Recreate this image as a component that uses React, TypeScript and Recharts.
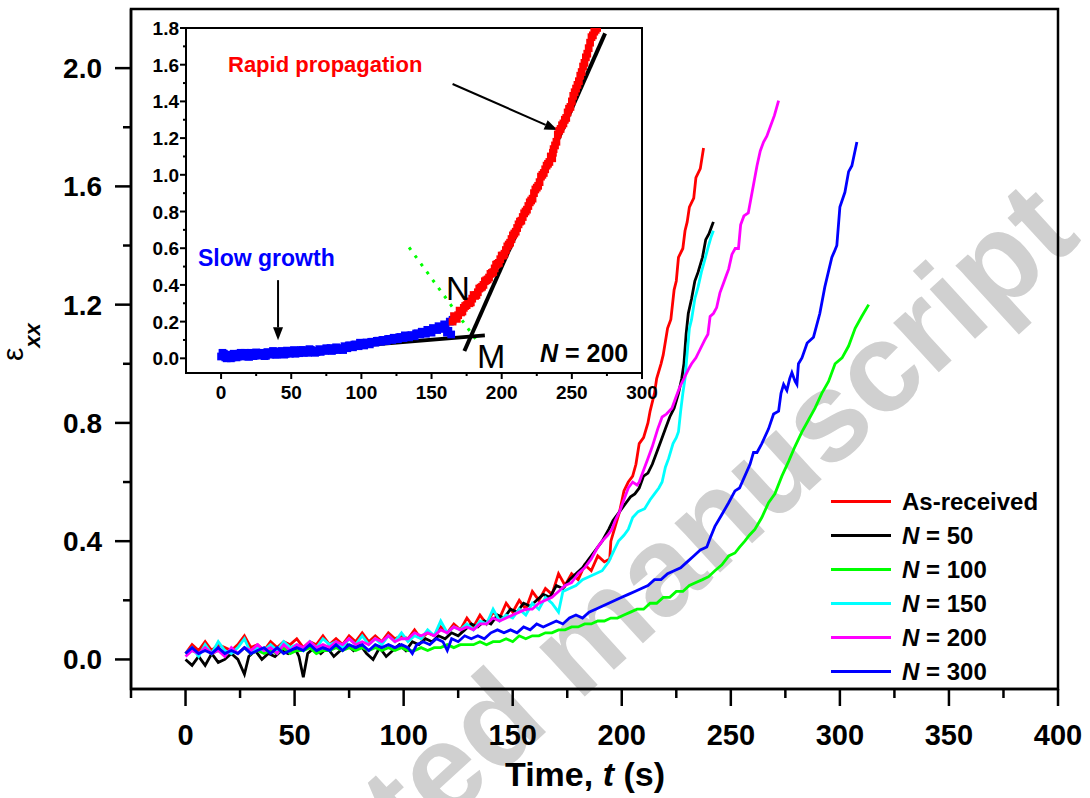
import React from 'react';
import { LineChart, Line, XAxis, YAxis, ReferenceArea, ReferenceLine, ComposedChart, Scatter, ZAxis } from 'recharts';

const FONT = '"Liberation Sans", Arial, Helvetica, sans-serif';

// [time (s), strain]
const asReceived: [number, number][] = [
  [0, 0.02], [3, 0.05], [6, 0.03], [9, 0.06], [12, 0.03], [15, 0.05], [18, 0.04], [21, 0.03], [24, 0.05], [27, 0.08],
  [30, 0.04], [33, 0.05], [36, 0.03], [39, 0.06], [42, 0.04], [45, 0.06], [48, 0.05], [51, 0.07], [54, 0.04], [57, 0.06],
  [60, 0.05], [63, 0.08], [66, 0.05], [69, 0.07], [72, 0.05], [75, 0.08], [78, 0.06], [81, 0.09], [84, 0.06], [87, 0.08],
  [90, 0.06], [93, 0.09], [96, 0.07], [99, 0.08], [102, 0.07], [105, 0.1], [108, 0.07], [111, 0.09], [114, 0.08], [117, 0.11],
  [120, 0.09], [123, 0.12], [126, 0.1], [129, 0.14], [132, 0.11], [135, 0.15], [138, 0.12], [141, 0.16], [144, 0.14], [147, 0.19],
  [150, 0.16], [153, 0.2], [156, 0.17], [159, 0.23], [162, 0.2], [165, 0.24], [168, 0.22], [171, 0.29], [174, 0.25], [177, 0.29],
  [180, 0.27], [183, 0.32], [186, 0.3], [189, 0.35], [192, 0.33], [194.5, 0.34], [195, 0.4], [197, 0.45], [199, 0.5], [201, 0.57],
  [203, 0.6], [205, 0.62], [206.5, 0.66], [208, 0.73], [210, 0.75], [212, 0.8], [213, 0.84], [215, 0.9], [216, 0.95], [218, 1.0],
  [219, 1.03], [221, 1.12], [222.5, 1.15], [224, 1.25], [225, 1.28], [226, 1.36], [228, 1.39], [229, 1.45], [230, 1.48], [231, 1.53],
  [233, 1.56], [234, 1.63], [236, 1.66], [237.5, 1.73],
];

const n50: [number, number][] = [
  [0, 0.0], [3, -0.02], [6, 0.01], [9, -0.02], [12, 0.02], [15, -0.01], [18, 0.0], [21, 0.02], [24, 0.0], [27, -0.05],
  [29, 0.01], [32, 0.03], [35, 0.0], [38, 0.02], [41, 0.01], [44, 0.03], [47, 0.02], [50, 0.04], [52, 0.01], [54, -0.06],
  [56, 0.02], [59, 0.04], [62, 0.02], [65, 0.04], [68, 0.01], [71, 0.03], [74, 0.05], [77, 0.03], [80, 0.05], [83, 0.02],
  [86, 0.0], [89, 0.04], [92, 0.01], [95, 0.03], [98, 0.05], [101, 0.03], [104, 0.06], [107, 0.05], [110, 0.07], [113, 0.06],
  [116, 0.08], [119, 0.07], [122, 0.09], [125, 0.08], [128, 0.1], [131, 0.12], [134, 0.11], [137, 0.13], [140, 0.12], [143, 0.15],
  [146, 0.14], [149, 0.17], [152, 0.16], [155, 0.19], [158, 0.18], [161, 0.2], [164, 0.22], [167, 0.21], [170, 0.25], [173, 0.24],
  [176, 0.27], [179, 0.29], [182, 0.31], [185, 0.34], [188, 0.37], [191, 0.4], [194, 0.44], [196, 0.47], [198, 0.49], [200, 0.51],
  [202, 0.53], [204, 0.55], [206, 0.56], [208, 0.58], [210, 0.62], [212, 0.63], [214, 0.66], [216, 0.7], [218, 0.74], [220, 0.78],
  [222, 0.82], [224, 0.85], [226, 0.9], [227.5, 0.95], [228.5, 1.0], [229.5, 1.1], [230.5, 1.17], [232, 1.22], [233.5, 1.28], [235, 1.31],
  [237, 1.36], [238.5, 1.42], [240, 1.44], [241, 1.46], [242, 1.48],
];

const n100: [number, number][] = [
  [0, 0.02], [3, 0.03], [6, 0.02], [9, 0.04], [12, 0.02], [15, 0.03], [18, 0.02], [21, 0.03], [24, 0.02], [27, 0.04],
  [30, 0.02], [33, 0.03], [36, 0.02], [39, 0.03], [42, 0.02], [45, 0.04], [48, 0.02], [51, 0.03], [54, 0.03], [57, 0.04],
  [60, 0.02], [63, 0.03], [66, 0.03], [69, 0.04], [72, 0.03], [75, 0.04], [78, 0.03], [81, 0.04], [84, 0.03], [87, 0.04],
  [90, 0.03], [93, 0.04], [96, 0.03], [99, 0.04], [102, 0.03], [105, 0.03], [108, 0.04], [111, 0.03], [114, 0.04], [117, 0.04],
  [120, 0.05], [123, 0.04], [126, 0.05], [129, 0.05], [132, 0.05], [135, 0.06], [138, 0.05], [141, 0.06], [144, 0.06], [147, 0.07],
  [150, 0.06], [153, 0.08], [156, 0.07], [159, 0.08], [162, 0.08], [165, 0.09], [168, 0.09], [171, 0.1], [174, 0.1], [177, 0.11],
  [180, 0.11], [183, 0.12], [186, 0.12], [189, 0.13], [192, 0.13], [195, 0.14], [198, 0.14], [201, 0.15], [204, 0.16], [207, 0.17],
  [210, 0.17], [213, 0.19], [216, 0.19], [219, 0.21], [222, 0.21], [225, 0.23], [228, 0.23], [231, 0.25], [234, 0.26], [237, 0.27],
  [239.8, 0.28], [242.7, 0.3], [245.9, 0.32], [249, 0.35], [251.9, 0.36], [254, 0.38], [256.4, 0.4], [258.5, 0.42], [261, 0.44], [264.2, 0.48],
  [267.3, 0.53], [270.2, 0.56], [273.4, 0.62], [276.5, 0.67], [279.4, 0.72], [282.6, 0.77], [285.6, 0.81], [288.6, 0.85], [291.7, 0.9], [294.8, 0.94],
  [297.8, 1.0], [301, 1.02], [304, 1.06], [307, 1.12], [310, 1.16], [313.2, 1.2],
];

const n150: [number, number][] = [
  [0, 0.02], [3, 0.04], [6, 0.01], [9, 0.05], [12, 0.02], [15, 0.06], [18, 0.03], [21, 0.02], [24, 0.04], [27, 0.07],
  [30, 0.02], [33, 0.04], [36, 0.03], [39, 0.05], [42, 0.03], [45, 0.06], [48, 0.04], [51, 0.05], [54, 0.03], [57, 0.06],
  [60, 0.04], [63, 0.07], [66, 0.05], [69, 0.06], [72, 0.04], [75, 0.07], [78, 0.05], [81, 0.08], [84, 0.05], [87, 0.07],
  [90, 0.05], [93, 0.08], [96, 0.06], [99, 0.09], [102, 0.06], [105, 0.08], [108, 0.07], [111, 0.1], [114, 0.08], [117, 0.13],
  [120, 0.09], [123, 0.11], [126, 0.1], [129, 0.12], [132, 0.1], [135, 0.13], [138, 0.12], [141, 0.17], [144, 0.13], [147, 0.15],
  [150, 0.14], [153, 0.17], [156, 0.15], [159, 0.19], [162, 0.17], [165, 0.21], [168, 0.19], [171, 0.16], [173, 0.23], [176, 0.24],
  [179, 0.25], [182, 0.27], [185, 0.28], [188, 0.29], [191, 0.3], [194, 0.33], [196.5, 0.37], [198.5, 0.4], [201, 0.42], [203, 0.44],
  [205, 0.48], [207.5, 0.5], [210.5, 0.51], [213, 0.54], [215, 0.56], [217, 0.58], [218.5, 0.6], [220, 0.65], [221.5, 0.68], [223.5, 0.73],
  [225, 0.75], [226, 0.77], [227, 0.84], [228, 0.9], [229, 0.95], [229.8, 1.02], [231, 1.12], [232, 1.15], [233.5, 1.22], [235, 1.26],
  [236.5, 1.31], [238, 1.35], [239.8, 1.4], [241, 1.43], [242, 1.45],
];

const n200: [number, number][] = [
  [0, 0.01], [3, 0.03], [6, 0.02], [9, 0.04], [12, 0.02], [15, 0.03], [18, 0.01], [21, 0.04], [24, 0.02], [27, 0.04],
  [30, 0.03], [33, 0.05], [36, 0.03], [39, 0.04], [42, 0.02], [45, 0.05], [48, 0.03], [51, 0.05], [54, 0.04], [57, 0.06],
  [60, 0.04], [63, 0.05], [66, 0.04], [69, 0.06], [72, 0.05], [75, 0.07], [78, 0.05], [81, 0.06], [84, 0.05], [87, 0.07],
  [90, 0.06], [93, 0.08], [96, 0.06], [99, 0.07], [102, 0.07], [105, 0.09], [108, 0.08], [111, 0.09], [114, 0.08], [117, 0.1],
  [120, 0.09], [123, 0.11], [126, 0.1], [129, 0.11], [132, 0.1], [135, 0.12], [138, 0.12], [141, 0.14], [144, 0.13], [147, 0.14],
  [150, 0.15], [153, 0.16], [156, 0.17], [159, 0.17], [162, 0.19], [165, 0.2], [168, 0.21], [171, 0.23], [174, 0.25], [177, 0.26],
  [180, 0.29], [183, 0.31], [186, 0.34], [189, 0.38], [191, 0.4], [193.5, 0.42], [195.5, 0.44], [197, 0.47], [199, 0.5], [201.5, 0.55],
  [203, 0.58], [205, 0.6], [207, 0.59], [208, 0.6], [210.5, 0.65], [212, 0.68], [214, 0.72], [216.5, 0.78], [218.5, 0.82], [220.5, 0.83],
  [223, 0.85], [225, 0.89], [226.5, 0.92], [228.5, 0.95], [230.5, 0.98], [232, 1.0], [234, 1.02], [236, 1.05], [238, 1.08], [239.5, 1.1],
  [240.5, 1.16], [242, 1.17], [243.5, 1.19], [245, 1.24], [246.5, 1.27], [248, 1.3], [249, 1.32], [250.5, 1.37], [252, 1.39], [253.5, 1.39],
  [254.5, 1.47], [256, 1.5], [258, 1.51], [259.5, 1.57], [260.5, 1.61], [262, 1.67], [263.5, 1.72], [265, 1.75], [266.5, 1.77], [268, 1.8],
  [270, 1.84], [271.9, 1.89],
];

const n300: [number, number][] = [
  [0, 0.02], [3, 0.04], [6, 0.02], [9, 0.03], [12, 0.02], [15, 0.04], [18, 0.02], [21, 0.03], [24, 0.02], [27, 0.04],
  [30, 0.02], [33, 0.03], [36, 0.04], [39, 0.02], [42, 0.04], [45, 0.02], [48, 0.03], [51, 0.04], [54, 0.03], [57, 0.05],
  [60, 0.03], [63, 0.04], [66, 0.03], [69, 0.05], [72, 0.03], [75, 0.05], [78, 0.04], [81, 0.05], [84, 0.03], [87, 0.05],
  [90, 0.04], [93, 0.05], [96, 0.04], [99, 0.05], [102, 0.04], [104, 0.02], [106, 0.05], [109, 0.06], [112, 0.05], [115, 0.07],
  [118, 0.06], [120, 0.03], [122, 0.07], [125, 0.06], [128, 0.08], [131, 0.07], [134, 0.08], [137, 0.07], [140, 0.09], [143, 0.1],
  [146, 0.09], [149, 0.1], [152, 0.09], [155, 0.11], [158, 0.1], [161, 0.12], [164, 0.11], [167, 0.12], [170, 0.13], [173, 0.12],
  [176, 0.14], [179, 0.15], [182, 0.14], [185, 0.16], [188, 0.17], [191, 0.18], [194, 0.19], [197, 0.2], [200, 0.21], [203, 0.22],
  [206, 0.23], [209, 0.24], [212, 0.25], [215, 0.27], [218, 0.27], [221, 0.29], [224, 0.3], [227, 0.31], [230, 0.33], [233, 0.35],
  [236, 0.37], [239, 0.38], [240.5, 0.41], [242.7, 0.45], [245.9, 0.49], [249, 0.53], [251.9, 0.57], [254, 0.58], [255.8, 0.61], [258.8, 0.66],
  [260.4, 0.7], [262, 0.7], [264.2, 0.73], [267.3, 0.78], [269.6, 0.83], [271.9, 0.84], [273, 0.9], [274.2, 0.93], [275.7, 0.91], [277, 0.95],
  [278, 0.97], [279.5, 0.94], [280.3, 0.93], [281, 1.0], [282.6, 1.02], [285, 1.07], [287.9, 1.09], [290.8, 1.17], [293.1, 1.26], [296.3, 1.36],
  [297.5, 1.38], [298.6, 1.4], [300, 1.53], [302.3, 1.58], [304, 1.65], [305.5, 1.67], [307.8, 1.75],
];

// inset (N = 200 specimen): slow growth and rapid propagation stages
const insetSlow: [number, number][] = [
  [0, 0.01], [1, 0.03], [2, 0.025], [3, 0.005], [4, 0.0], [5, 0.02], [6, 0.015], [7, 0.0], [8, 0.005], [9, 0.025],
  [10, 0.02], [11, 0.005], [12, 0.01], [13, 0.025], [14, 0.03], [15, 0.01], [16, 0.012], [17, 0.03], [18, 0.022], [19, 0.01],
  [20, 0.008], [21, 0.03], [22, 0.025], [23, 0.012], [24, 0.015], [25, 0.032], [26, 0.03], [27, 0.015], [28, 0.018], [29, 0.03],
  [30, 0.026], [31, 0.012], [32, 0.014], [33, 0.034], [34, 0.03], [35, 0.02], [36, 0.024], [37, 0.04], [38, 0.036], [39, 0.02],
  [40, 0.02], [42, 0.03], [43, 0.04], [44, 0.036], [45, 0.02], [46, 0.024], [47, 0.042], [48, 0.04], [49, 0.025], [50, 0.03],
  [52, 0.045], [53, 0.025], [54, 0.034], [56, 0.028], [57, 0.045], [58, 0.045], [59, 0.03], [60, 0.04], [62, 0.03], [63, 0.05],
  [64, 0.046], [66, 0.04], [67, 0.03], [68, 0.034], [70, 0.05], [71, 0.035], [72, 0.044], [74, 0.04], [75, 0.055], [76, 0.05],
  [78, 0.056], [79, 0.04], [80, 0.045], [82, 0.06], [83, 0.045], [84, 0.05], [86, 0.056], [87, 0.045], [88, 0.066], [90, 0.055],
  [91, 0.07], [92, 0.07], [94, 0.06], [95, 0.075], [96, 0.075], [98, 0.066], [99, 0.085], [100, 0.08], [102, 0.07], [103, 0.085],
  [104, 0.086], [106, 0.076], [107, 0.09], [108, 0.09], [110, 0.085], [111, 0.095], [112, 0.096], [114, 0.09], [115, 0.1], [116, 0.1],
  [118, 0.094], [119, 0.105], [120, 0.106], [122, 0.1], [123, 0.112], [124, 0.11], [126, 0.104], [127, 0.115], [128, 0.116], [130, 0.11],
  [131, 0.125], [132, 0.12], [134, 0.114], [135, 0.125], [136, 0.126], [138, 0.12], [139, 0.135], [140, 0.136], [142, 0.13], [143, 0.145],
  [144, 0.14], [146, 0.134], [147, 0.155], [148, 0.15], [150, 0.14], [151, 0.165], [152, 0.16], [154, 0.154], [155, 0.175], [156, 0.17],
  [158, 0.16], [159, 0.185], [160, 0.18], [161, 0.14], [162, 0.15], [163, 0.2], [164, 0.13], [165, 0.21],
];

const insetRapid: [number, number][] = [
  [165, 0.2], [166, 0.23], [167, 0.22], [168, 0.215], [169, 0.235], [170, 0.26], [171, 0.25], [172, 0.255], [173, 0.275], [174, 0.285],
  [175, 0.29], [176, 0.31], [177, 0.3], [178, 0.305], [179, 0.325], [180, 0.345], [181, 0.34], [182, 0.345], [183, 0.36], [184, 0.38],
  [185, 0.385], [186, 0.39], [187, 0.4], [188, 0.42], [189, 0.425], [190, 0.43], [191, 0.44], [192, 0.46], [193, 0.465], [194, 0.47],
  [195, 0.49], [196, 0.51], [197, 0.515], [198, 0.52], [199, 0.54], [200, 0.56], [201, 0.56], [202, 0.57], [203, 0.59], [204, 0.61],
  [205, 0.62], [206, 0.63], [207, 0.65], [208, 0.67], [209, 0.68], [210, 0.69], [211, 0.71], [212, 0.73], [213, 0.745], [214, 0.75],
  [215, 0.77], [216, 0.79], [217, 0.8], [218, 0.81], [219, 0.83], [220, 0.85], [221, 0.86], [222, 0.87], [223, 0.9], [224, 0.92],
  [225, 0.93], [226, 0.94], [227, 0.96], [228, 0.99], [229, 1.0], [230, 1.01], [231, 1.03], [232, 1.05], [233, 1.06], [234, 1.07],
  [235, 1.1], [236, 1.09], [236.5, 1.12], [237, 1.14], [238, 1.16], [239, 1.18], [240, 1.22], [241, 1.24], [242, 1.25], [243, 1.27],
  [244, 1.28], [245, 1.3], [246, 1.31], [247, 1.34], [248, 1.36], [249, 1.37], [250, 1.4], [251, 1.43], [252, 1.45], [253, 1.47],
  [254, 1.49], [255, 1.51], [256, 1.54], [257, 1.56], [258, 1.59], [259, 1.61], [260, 1.64], [261, 1.66], [262, 1.69], [263, 1.72],
  [264, 1.75], [265, 1.76], [266, 1.78], [267, 1.79], [268, 1.8],
];

const MAIN_X_TICKS = [-25, 0, 25, 50, 75, 100, 125, 150, 175, 200, 225, 250, 275, 300, 325, 350, 375, 400];
const MAIN_Y_TICKS = [0, 0.2, 0.4, 0.6, 0.8, 1.0, 1.2, 1.4, 1.6, 1.8, 2.0];
const INSET_X_TICKS = [0, 25, 50, 75, 100, 125, 150, 175, 200, 225, 250, 275, 300];
const INSET_Y_TICKS = [0, 0.1, 0.2, 0.3, 0.4, 0.5, 0.6, 0.7, 0.8, 0.9, 1.0, 1.1, 1.2, 1.3, 1.4, 1.5, 1.6, 1.7, 1.8];

const SERIES = [
  { key: 'asr', name: 'As-received', n: '', color: '#ff0000', data: asReceived },
  { key: 'n50', name: 'N = 50', n: '50', color: '#000000', data: n50 },
  { key: 'n100', name: 'N = 100', n: '100', color: '#00ff00', data: n100 },
  { key: 'n150', name: 'N = 150', n: '150', color: '#00ffff', data: n150 },
  { key: 'n200', name: 'N = 200', n: '200', color: '#ff00ff', data: n200 },
  { key: 'n300', name: 'N = 300', n: '300', color: '#0000ff', data: n300 },
];

const toPts = (a: [number, number][]) => a.map(([t, v]) => ({ t, v }));

const MainXTick = (props: any) => {
  const { x, y, payload } = props;
  const major = payload.value % 50 === 0;
  return (
    <g>
      <line x1={x} x2={x} y1={y} y2={y + (major ? 17 : 9)} stroke="#000" strokeWidth={2.5} />
      {major && (
        <text x={x} y={y + 56} textAnchor="middle" fontSize={29} fontWeight="bold" fontFamily={FONT} fill="#000">
          {payload.value}
        </text>
      )}
    </g>
  );
};

const MainYTick = (props: any) => {
  const { x, y, payload } = props;
  const major = Math.round(payload.value * 10) % 4 === 0;
  return (
    <g>
      <line x1={x} x2={x - (major ? 16 : 8)} y1={y} y2={y} stroke="#000" strokeWidth={2.5} />
      {major && (
        <text x={x - 29} y={y + 10} textAnchor="end" fontSize={28} fontWeight="bold" fontFamily={FONT} fill="#000">
          {payload.value.toFixed(1)}
        </text>
      )}
    </g>
  );
};

const InsetXTick = (props: any) => {
  const { x, y, payload } = props;
  const major = payload.value % 50 === 0;
  return (
    <g>
      <line x1={x} x2={x} y1={y} y2={y + (major ? 6 : 3)} stroke="#000" strokeWidth={2} />
      {major && (
        <text x={x} y={y + 26} textAnchor="middle" fontSize={19} fontWeight="bold" fontFamily={FONT} fill="#000">
          {payload.value}
        </text>
      )}
    </g>
  );
};

const InsetYTick = (props: any) => {
  const { x, y, payload } = props;
  const major = Math.round(payload.value * 10) % 2 === 0;
  return (
    <g>
      <line x1={x} x2={x - (major ? 6 : 3)} y1={y} y2={y} stroke="#000" strokeWidth={2} />
      {major && (
        <text x={x - 7} y={y + 7} textAnchor="end" fontSize={19} fontWeight="bold" fontFamily={FONT} fill="#000">
          {payload.value.toFixed(1)}
        </text>
      )}
    </g>
  );
};

const arrowShape = (props: any) => {
  const { x1, y1, x2, y2 } = props;
  const ang = Math.atan2(y2 - y1, x2 - x1);
  const L = 13;
  const W = 5;
  const bx = x2 - L * Math.cos(ang);
  const by = y2 - L * Math.sin(ang);
  const pts = `${x2},${y2} ${bx - W * Math.sin(ang)},${by + W * Math.cos(ang)} ${bx + W * Math.sin(ang)},${by - W * Math.cos(ang)}`;
  return (
    <g>
      <line x1={x1} y1={y1} x2={bx} y2={by} stroke="#000" strokeWidth={2} />
      <polygon points={pts} fill="#000" />
    </g>
  );
};

const Inset = () => (
  <ComposedChart width={530} height={405} margin={{ top: 18, right: 18, bottom: 0, left: 0 }}>
    <XAxis
      dataKey="t"
      type="number"
      domain={[-25, 300]}
      allowDataOverflow
      ticks={INSET_X_TICKS}
      interval={0}
      tickSize={0}
      tickMargin={0}
      tick={<InsetXTick />}
      height={42}
      axisLine={{ stroke: '#000', strokeWidth: 2 }}
    />
    <YAxis
      dataKey="v"
      type="number"
      domain={[-0.08, 1.8]}
      allowDataOverflow
      ticks={INSET_Y_TICKS}
      interval={0}
      tickSize={0}
      tickMargin={0}
      tick={<InsetYTick />}
      width={56}
      axisLine={{ stroke: '#000', strokeWidth: 2 }}
    />
    <ZAxis range={[60, 60]} />
    <ReferenceArea x1={-25} x2={300} y1={-0.08} y2={1.8} fill="none" stroke="#000" strokeWidth={2} ifOverflow="visible" />
    <Scatter data={toPts(insetSlow)} dataKey="v" fill="#0000ff" shape="square" isAnimationActive={false} />
    <Scatter data={toPts(insetRapid)} dataKey="v" fill="#ff0000" shape="square" isAnimationActive={false} />
    <ReferenceLine segment={[{ x: 134, y: 0.604 }, { x: 183, y: 0.089 }]} stroke="#00ff00" strokeWidth={3} strokeDasharray="3 7" />
    <ReferenceLine segment={[{ x: -1, y: 0.007 }, { x: 188, y: 0.125 }]} stroke="#000" strokeWidth={4} />
    <ReferenceLine segment={[{ x: 173.4, y: 0.04 }, { x: 273.7, y: 1.771 }]} stroke="#000" strokeWidth={4} />
    <ReferenceLine segment={[{ x: 165, y: 1.495 }, { x: 239.8, y: 1.244 }]} shape={arrowShape} />
    <ReferenceLine segment={[{ x: 40.6, y: 0.426 }, { x: 40.6, y: 0.098 }]} shape={arrowShape} />
  </ComposedChart>
);

const App = () => {
  return (
    <div style={{ position: 'absolute', left: 0, top: 0, width: 1090, height: 798, background: '#fff', fontFamily: FONT, overflow: 'hidden' }}>
      <svg width={1090} height={798} style={{ position: 'absolute', left: 0, top: 0 }}>
        <text
          x={1083}
          y={240}
          transform="rotate(-42.5 1083 240)"
          textAnchor="end"
          fontSize={127}
          fontWeight="bold"
          fontFamily={FONT}
          fill="#d0d0d0"
        >
          Accepted manuscript
        </text>
      </svg>

      <div style={{ position: 'absolute', left: 0, top: 0 }}>
        <LineChart width={1090} height={798} margin={{ top: 9, right: 32, bottom: 0, left: 0 }}>
          <XAxis
            dataKey="t"
            type="number"
            domain={[-25, 400]}
            allowDataOverflow
            ticks={MAIN_X_TICKS}
            interval={0}
            tickSize={0}
            tickMargin={0}
            tick={<MainXTick />}
            height={109}
            axisLine={{ stroke: '#000', strokeWidth: 2.5 }}
          />
          <YAxis
            type="number"
            domain={[-0.1, 2.2]}
            allowDataOverflow
            ticks={MAIN_Y_TICKS}
            interval={0}
            tickSize={0}
            tickMargin={0}
            tick={<MainYTick />}
            width={131}
            axisLine={{ stroke: '#000', strokeWidth: 2.5 }}
          />
          <ReferenceArea x1={-25} x2={400} y1={-0.1} y2={2.2} fill="none" stroke="#000" strokeWidth={2.5} ifOverflow="visible" />
          {SERIES.map((s) => (
            <Line
              key={s.key}
              data={toPts(s.data)}
              dataKey="v"
              name={s.name}
              type="linear"
              stroke={s.color}
              strokeWidth={2.8}
              dot={false}
              isAnimationActive={false}
            />
          ))}
        </LineChart>
      </div>

      <div style={{ position: 'absolute', left: 130, top: 10 }}>
        <Inset />
      </div>

      <svg width={1090} height={798} style={{ position: 'absolute', left: 0, top: 0, pointerEvents: 'none' }} fontFamily={FONT}>
        {/* axis titles */}
        <text transform="translate(23,361) rotate(-90)" fontSize={30} fill="#000">
          ε
          <tspan fontSize={22} fontWeight="bold" fontStyle="italic" dy={17}>xx</tspan>
        </text>
        <text x={585} y={786} textAnchor="middle" fontSize={34} fontWeight="bold" fill="#000">
          Time,{' '}<tspan fontStyle="italic">t</tspan>{' '}(s)
        </text>

        {/* legend */}
        {SERIES.map((s, i) => {
          const cy = 501.5 + 34 * i;
          return (
            <g key={s.key}>
              <line x1={831} x2={891} y1={cy} y2={cy} stroke={s.color} strokeWidth={3} />
              <text x={902} y={cy + 8.5} fontSize={24} fontWeight="bold" fill="#000">
                {s.n ? (
                  <>
                    <tspan fontStyle="italic">N</tspan> = {s.n}
                  </>
                ) : (
                  s.name
                )}
              </text>
            </g>
          );
        })}

        {/* inset annotations */}
        <text x={228} y={72} fontSize={22} fontWeight="bold" fill="#ff0000">Rapid propagation</text>
        <text x={198} y={266} fontSize={23} fontWeight="bold" fill="#0000ff">Slow growth</text>
        <text x={446} y={300} fontSize={33} fill="#000">N</text>
        <text x={477} y={368} fontSize={34} fill="#000">M</text>
        <text x={540} y={362} fontSize={25} fontWeight="bold" fill="#000">
          <tspan fontStyle="italic">N</tspan> = 200
        </text>
      </svg>
    </div>
  );
};

export default App;
